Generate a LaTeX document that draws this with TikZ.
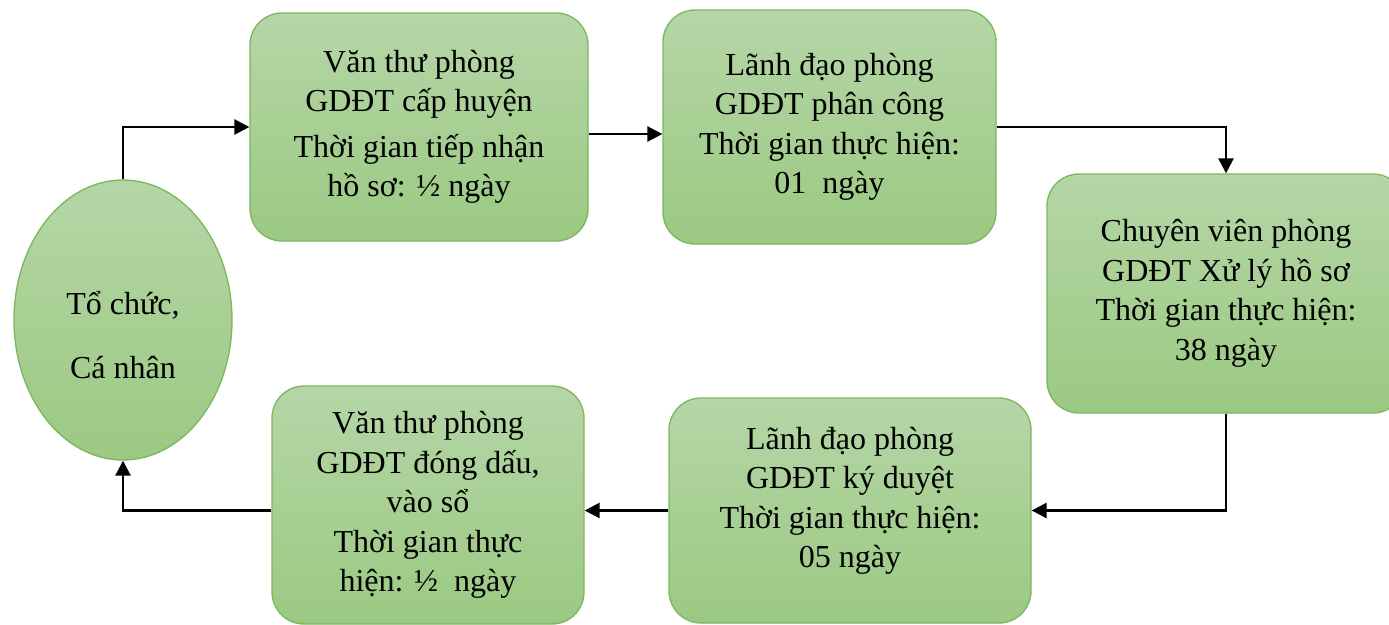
\documentclass[tikz,border=0pt]{standalone}
\usepackage{fontspec}
\setmainfont{Liberation Serif}
\usetikzlibrary{arrows.meta,shapes.geometric}
\definecolor{gtop}{HTML}{B5D6A7}
\definecolor{gbot}{HTML}{9BC982}
\definecolor{gline}{HTML}{7CB65D}
\begin{document}
\begin{tikzpicture}[x=1pt,y=-1pt,
  shapestyle/.style={draw=gline, line width=1.3pt, top color=gtop, bottom color=gbot,
    align=center, font=\fontsize{32}{39.5}\selectfont, inner sep=0pt},
  box/.style={shapestyle, rectangle, rounded corners=32pt},
  conn/.style={line width=2.6pt, -{Triangle[length=15pt,width=15pt]}}]
\useasboundingbox (0,0) rectangle (1389,624);
\clip (0,0) rectangle (1389,624);
\node[shapestyle, ellipse, minimum width=218pt, minimum height=280pt] (ell) at (123,320)
  {\mbox{}\\[14pt]Tổ chức,\\[24pt]Cá nhân};
\node[box, minimum width=338pt, minimum height=228pt] (b1) at (419,127)
  {Văn thư phòng\\GDĐT cấp huyện\\[6pt]Thời gian tiếp nhận\\hồ sơ: ½ ngày};
\node[box, minimum width=333pt, minimum height=234pt] (b2) at (829.5,127)
  {Lãnh đạo phòng\\GDĐT phân công\\Thời gian thực hiện:\\01\ \ ngày};
\node[box, minimum width=358pt, minimum height=239pt] (b3) at (1226,293.5)
  {Chuyên viên phòng\\GDĐT Xử lý hồ sơ\\Thời gian thực hiện:\\38 ngày};
\node[box, minimum width=362pt, minimum height=225pt] (b4) at (850,510.5)
  {Lãnh đạo phòng\\GDĐT ký duyệt\\Thời gian thực hiện:\\05 ngày\\[-13pt]\mbox{}};
\node[box, minimum width=312pt, minimum height=238pt] (b5) at (428,505)
  {Văn thư phòng\\GDĐT đóng dấu,\\vào sổ\\Thời gian thực\\hiện: ½\ \ ngày};
\draw[conn] (ell.north) |- (b1.west);
\draw[conn] ([yshift=-7pt]b1.east) -- ([yshift=-7pt]b2.west);
\draw[conn] (b2.east) -| (b3.north);
\draw[conn] (b3.south) |- (b4.east);
\draw[conn] (b4.west) -- (b4.west -| b5.east);
\draw[conn] (b4.west -| b5.west) -| (ell.south);
\end{tikzpicture}
\end{document}
